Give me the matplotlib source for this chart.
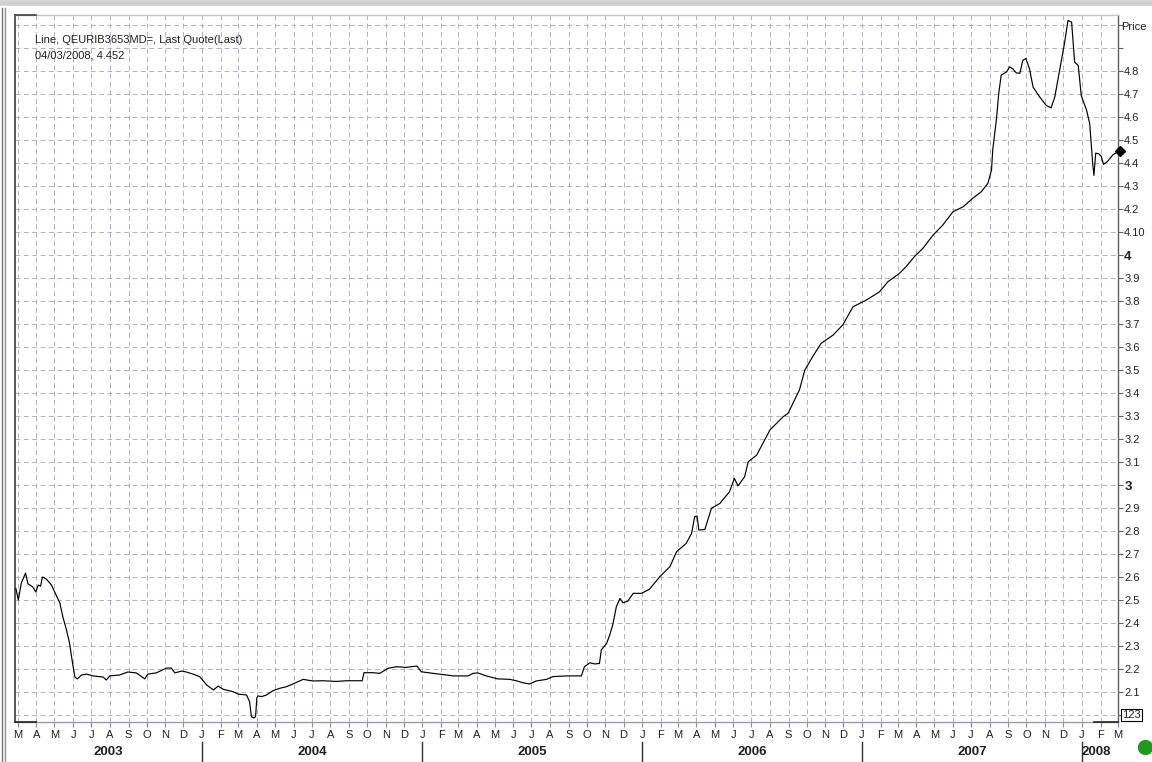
import matplotlib
matplotlib.use("Agg")
import matplotlib.pyplot as plt
import matplotlib.dates as mdates
import matplotlib.transforms as mtransforms
from matplotlib.lines import Line2D
import numpy as np
import pandas as pd

# ---------------- data ----------------
dates = [
    "2003-02-26", "2003-03-02", "2003-03-07", "2003-03-14", "2003-03-18", "2003-03-26",
    "2003-03-31", "2003-04-04", "2003-04-08", "2003-04-11", "2003-04-18", "2003-04-26",
    "2003-05-04", "2003-05-10", "2003-05-15", "2003-05-21", "2003-05-26", "2003-05-31",
    "2003-06-04", "2003-06-08", "2003-06-15", "2003-06-23", "2003-07-04", "2003-07-21",
    "2003-07-26", "2003-08-01", "2003-08-17", "2003-08-31", "2003-09-14", "2003-09-28",
    "2003-10-03", "2003-10-17", "2003-11-03", "2003-11-11", "2003-11-17", "2003-11-28",
    "2003-12-06", "2003-12-17", "2003-12-28", "2004-01-09", "2004-01-20", "2004-01-28",
    "2004-02-05", "2004-02-22", "2004-03-01", "2004-03-15", "2004-03-20", "2004-03-23",
    "2004-03-27", "2004-03-30", "2004-04-01", "2004-04-03", "2004-04-09", "2004-04-17",
    "2004-04-28", "2004-05-09", "2004-05-20", "2004-05-31", "2004-06-17", "2004-07-03",
    "2004-07-20", "2004-08-11", "2004-08-28", "2004-09-23", "2004-09-26", "2004-10-11",
    "2004-10-22", "2004-11-05", "2004-11-19", "2004-12-05", "2004-12-23", "2004-12-30",
    "2005-01-19", "2005-02-10", "2005-02-21", "2005-03-18", "2005-03-26", "2005-04-03",
    "2005-04-17", "2005-05-06", "2005-05-26", "2005-06-06", "2005-06-17", "2005-06-28",
    "2005-07-09", "2005-07-26", "2005-08-06", "2005-08-28", "2005-09-22", "2005-09-27",
    "2005-10-06", "2005-10-14", "2005-10-22", "2005-10-25", "2005-11-03", "2005-11-08",
    "2005-11-13", "2005-11-19", "2005-11-25", "2005-11-30", "2005-12-08", "2005-12-17",
    "2005-12-31", "2006-01-13", "2006-01-30", "2006-02-16", "2006-02-27", "2006-03-15",
    "2006-03-24", "2006-03-29", "2006-04-02", "2006-04-05", "2006-04-15", "2006-04-26",
    "2006-05-10", "2006-05-26", "2006-06-03", "2006-06-09", "2006-06-20", "2006-06-26",
    "2006-07-10", "2006-08-01", "2006-08-23", "2006-08-31", "2006-09-11", "2006-09-19",
    "2006-09-28", "2006-10-11", "2006-10-25", "2006-11-14", "2006-11-30", "2006-12-17",
    "2007-01-08", "2007-01-30", "2007-02-13", "2007-03-04", "2007-03-15", "2007-03-29",
    "2007-04-12", "2007-04-29", "2007-05-15", "2007-06-01", "2007-06-18", "2007-07-04",
    "2007-07-18", "2007-07-29", "2007-08-04", "2007-08-06", "2007-08-12", "2007-08-16",
    "2007-08-20", "2007-08-29", "2007-09-03", "2007-09-08", "2007-09-14", "2007-09-20",
    "2007-09-25", "2007-09-30", "2007-10-06", "2007-10-12", "2007-10-23", "2007-11-03",
    "2007-11-11", "2007-11-17", "2007-11-25", "2007-12-03", "2007-12-09", "2007-12-15",
    "2007-12-20", "2007-12-26", "2007-12-31", "2008-01-09", "2008-01-14", "2008-01-19",
    "2008-01-21", "2008-01-24", "2008-01-29", "2008-02-02", "2008-02-06", "2008-02-13",
    "2008-02-22", "2008-03-04",
]
prices = [
    2.550, 2.500, 2.574, 2.617, 2.570, 2.557,
    2.535, 2.565, 2.560, 2.600, 2.590, 2.565,
    2.520, 2.487, 2.426, 2.370, 2.313, 2.226,
    2.165, 2.157, 2.174, 2.178, 2.170, 2.165,
    2.152, 2.170, 2.174, 2.187, 2.183, 2.157,
    2.178, 2.183, 2.204, 2.204, 2.183, 2.191,
    2.187, 2.178, 2.167, 2.130, 2.109, 2.126,
    2.112, 2.101, 2.091, 2.087, 2.058, 1.993,
    1.987, 1.993, 2.074, 2.083, 2.080, 2.087,
    2.106, 2.116, 2.123, 2.135, 2.155, 2.148,
    2.149, 2.146, 2.149, 2.149, 2.184, 2.184,
    2.181, 2.203, 2.210, 2.207, 2.213, 2.188,
    2.181, 2.174, 2.170, 2.170, 2.181, 2.183,
    2.170, 2.157, 2.155, 2.149, 2.140, 2.135,
    2.148, 2.155, 2.167, 2.170, 2.170, 2.210,
    2.227, 2.222, 2.224, 2.283, 2.312, 2.348,
    2.391, 2.471, 2.507, 2.488, 2.495, 2.529,
    2.529, 2.547, 2.601, 2.645, 2.710, 2.746,
    2.790, 2.862, 2.865, 2.804, 2.807, 2.899,
    2.920, 2.971, 3.029, 2.996, 3.036, 3.101,
    3.130, 3.239, 3.297, 3.311, 3.370, 3.413,
    3.500, 3.558, 3.616, 3.652, 3.696, 3.775,
    3.804, 3.840, 3.884, 3.920, 3.949, 3.993,
    4.029, 4.087, 4.130, 4.188, 4.210, 4.247,
    4.275, 4.312, 4.370, 4.457, 4.587, 4.703,
    4.782, 4.796, 4.818, 4.810, 4.792, 4.790,
    4.847, 4.854, 4.810, 4.730, 4.687, 4.650,
    4.640, 4.687, 4.803, 4.918, 5.020, 5.012,
    4.838, 4.824, 4.693, 4.628, 4.571, 4.397,
    4.346, 4.443, 4.440, 4.430, 4.394, 4.408,
    4.437, 4.452,
]

y_ticks = [2.0, 2.1, 2.2, 2.3, 2.4, 2.5, 2.6, 2.7, 2.8, 2.9, 3.0, 3.1, 3.2, 3.3, 3.4,
           3.5, 3.6, 3.7, 3.8, 3.9, 4.0, 4.1, 4.2, 4.3, 4.4, 4.5, 4.6, 4.7, 4.8, 4.9, 5.0]
y_labels = ["", "2.1", "2.2", "2.3", "2.4", "2.5", "2.6", "2.7", "2.8", "2.9", "3", "3.1",
            "3.2", "3.3", "3.4", "3.5", "3.6", "3.7", "3.8", "3.9", "4", "4.10", "4.2",
            "4.3", "4.4", "4.5", "4.6", "4.7", "4.8", "", ""]
bold_labels = ["3", "4"]
years = [2003, 2004, 2005, 2006, 2007, 2008]
month_letters = ["J", "F", "M", "A", "M", "J", "J", "A", "S", "O", "N", "D"]
title_line1 = "Line, QEURIB3653MD=, Last Quote(Last)"
title_line2 = "04/03/2008, 4.452"
box_label = "123"
x_start, x_end = "2003-02-24 12:00", "2008-03-01"
y_min, y_max = 1.9696, 5.0435

# ---------------- figure ----------------
plt.rcParams['font.family'] = ['Liberation Sans', 'DejaVu Sans']
W, H = 1152, 762
fig = plt.figure(figsize=(W / 100, H / 100), dpi=100, facecolor="white")
L, R, T, B = 15, 1118, 15, 722
ax = fig.add_axes([L / W, 1 - B / H, (R - L) / W, (B - T) / H])
ax.set_facecolor("white")

dt = pd.to_datetime(dates)
ax.plot(dt, prices, color="black", lw=0.85, clip_on=False, zorder=5)
ax.plot(dt[-1:], prices[-1:], marker="D", ms=5.5, color="black", clip_on=False, zorder=6)

ax.set_xlim(pd.Timestamp(x_start), pd.Timestamp(x_end))
ax.set_ylim(y_min, y_max)

# y axis on right
ax.yaxis.tick_right()
ax.set_yticks(y_ticks)
ax.set_yticklabels(y_labels)
for lab in ax.get_yticklabels():
    if lab.get_text() in bold_labels:
        lab.set_fontweight("bold")
        lab.set_fontsize(9.5)
    else:
        lab.set_fontsize(8)
    lab.set_color("#202020")
ax.tick_params(axis="y", direction="out", length=3.5, width=0.8, color="#606060", pad=1)

# x axis months
month_starts = pd.date_range("2003-03-01", "2008-03-01", freq="MS")
ax.set_xticks(month_starts)
ax.set_xticklabels([month_letters[d.month - 1] for d in month_starts], fontsize=8, color="#202020")
ax.tick_params(axis="x", direction="out", length=3.5, width=0.8, color="#8a8aa0", pad=2)

# grid
ax.grid(True, which="major", color="#b0b0c2", lw=0.7, ls=(0, (5.0, 3.6)))
ax.set_axisbelow(True)

for side, col, lw in [("left", "#3a3a3a", 1.2), ("right", "#606060", 1.0),
                      ("bottom", "#9a9ab0", 1.0), ("top", "#c4c4c4", 1.0)]:
    ax.spines[side].set_color(col)
    ax.spines[side].set_linewidth(lw)

# year labels and separators
trans = mtransforms.blended_transform_factory(ax.transData, ax.transAxes)
x0n, x1n = ax.get_xlim()
for yr in years:
    ys = mdates.date2num(pd.Timestamp(f"{yr}-01-01"))
    ye = mdates.date2num(pd.Timestamp(f"{yr + 1}-01-01"))
    a, b = max(ys, x0n), min(ye, x1n)
    if yr == years[-1]:
        ax.text(ys, -0.0425, str(yr), transform=trans, ha="left", va="center",
                fontsize=9.5, fontweight="bold", color="#202020")
    else:
        ax.text((a + b) / 2, -0.0425, str(yr), transform=trans, ha="center", va="center",
                fontsize=9.5, fontweight="bold", color="#202020")
    if ys > x0n:
        ax.add_line(Line2D([ys, ys], [-0.028, -0.056], transform=trans, color="#303030",
                           lw=1.0, clip_on=False))

# annotation text
ax.text(20 / (R - L), 1 - 25 / (B - T), title_line1, transform=ax.transAxes,
        fontsize=8, color="#202020", va="center", ha="left")
ax.text(20 / (R - L), 1 - 41 / (B - T), title_line2, transform=ax.transAxes,
        fontsize=8, color="#202020", va="center", ha="left")

# 'Price' label
fig.text(1121 / W, 1 - 27 / H, "Price", fontsize=8, color="#202020", ha="left", va="center")

# boxed value label at the 2.0 level
ax.text(1.004, y_ticks[0], box_label,
        transform=mtransforms.blended_transform_factory(ax.transAxes, ax.transData),
        fontsize=8, color="#202020", ha="left", va="center",
        bbox=dict(boxstyle="square,pad=0.12", fc="white", ec="black", lw=0.8))

# green status dot
fig.add_artist(Line2D([1145 / W], [1 - 747 / H], marker="o", ms=10, color="#1e9a1e",
                      mec="#1e9a1e", transform=fig.transFigure))

# window borders / decorations
fig.add_artist(Line2D([1.5 / W, 1.5 / W], [0, 1 - 8 / H], color="#707070", lw=1.0,
                      transform=fig.transFigure))
fig.add_artist(Line2D([4.5 / W, 4.5 / W], [0, 1 - 8 / H], color="#909090", lw=1.0,
                      transform=fig.transFigure))
fig.add_artist(Line2D([0, 1], [1 - 3 / H, 1 - 3 / H], color="#d0d0d0", lw=4,
                      transform=fig.transFigure))
# dark corner marks on the frame
fig.add_artist(Line2D([L / W, 36 / W], [1 - T / H, 1 - T / H], color="#404040", lw=1.2,
                      transform=fig.transFigure))
fig.add_artist(Line2D([L / W, 36 / W], [1 - B / H, 1 - B / H], color="#202020", lw=1.2,
                      transform=fig.transFigure))
fig.add_artist(Line2D([1094 / W, R / W], [1 - B / H, 1 - B / H], color="#202020", lw=1.2,
                      transform=fig.transFigure))

fig.savefig("out.png", dpi=100, facecolor="white")
